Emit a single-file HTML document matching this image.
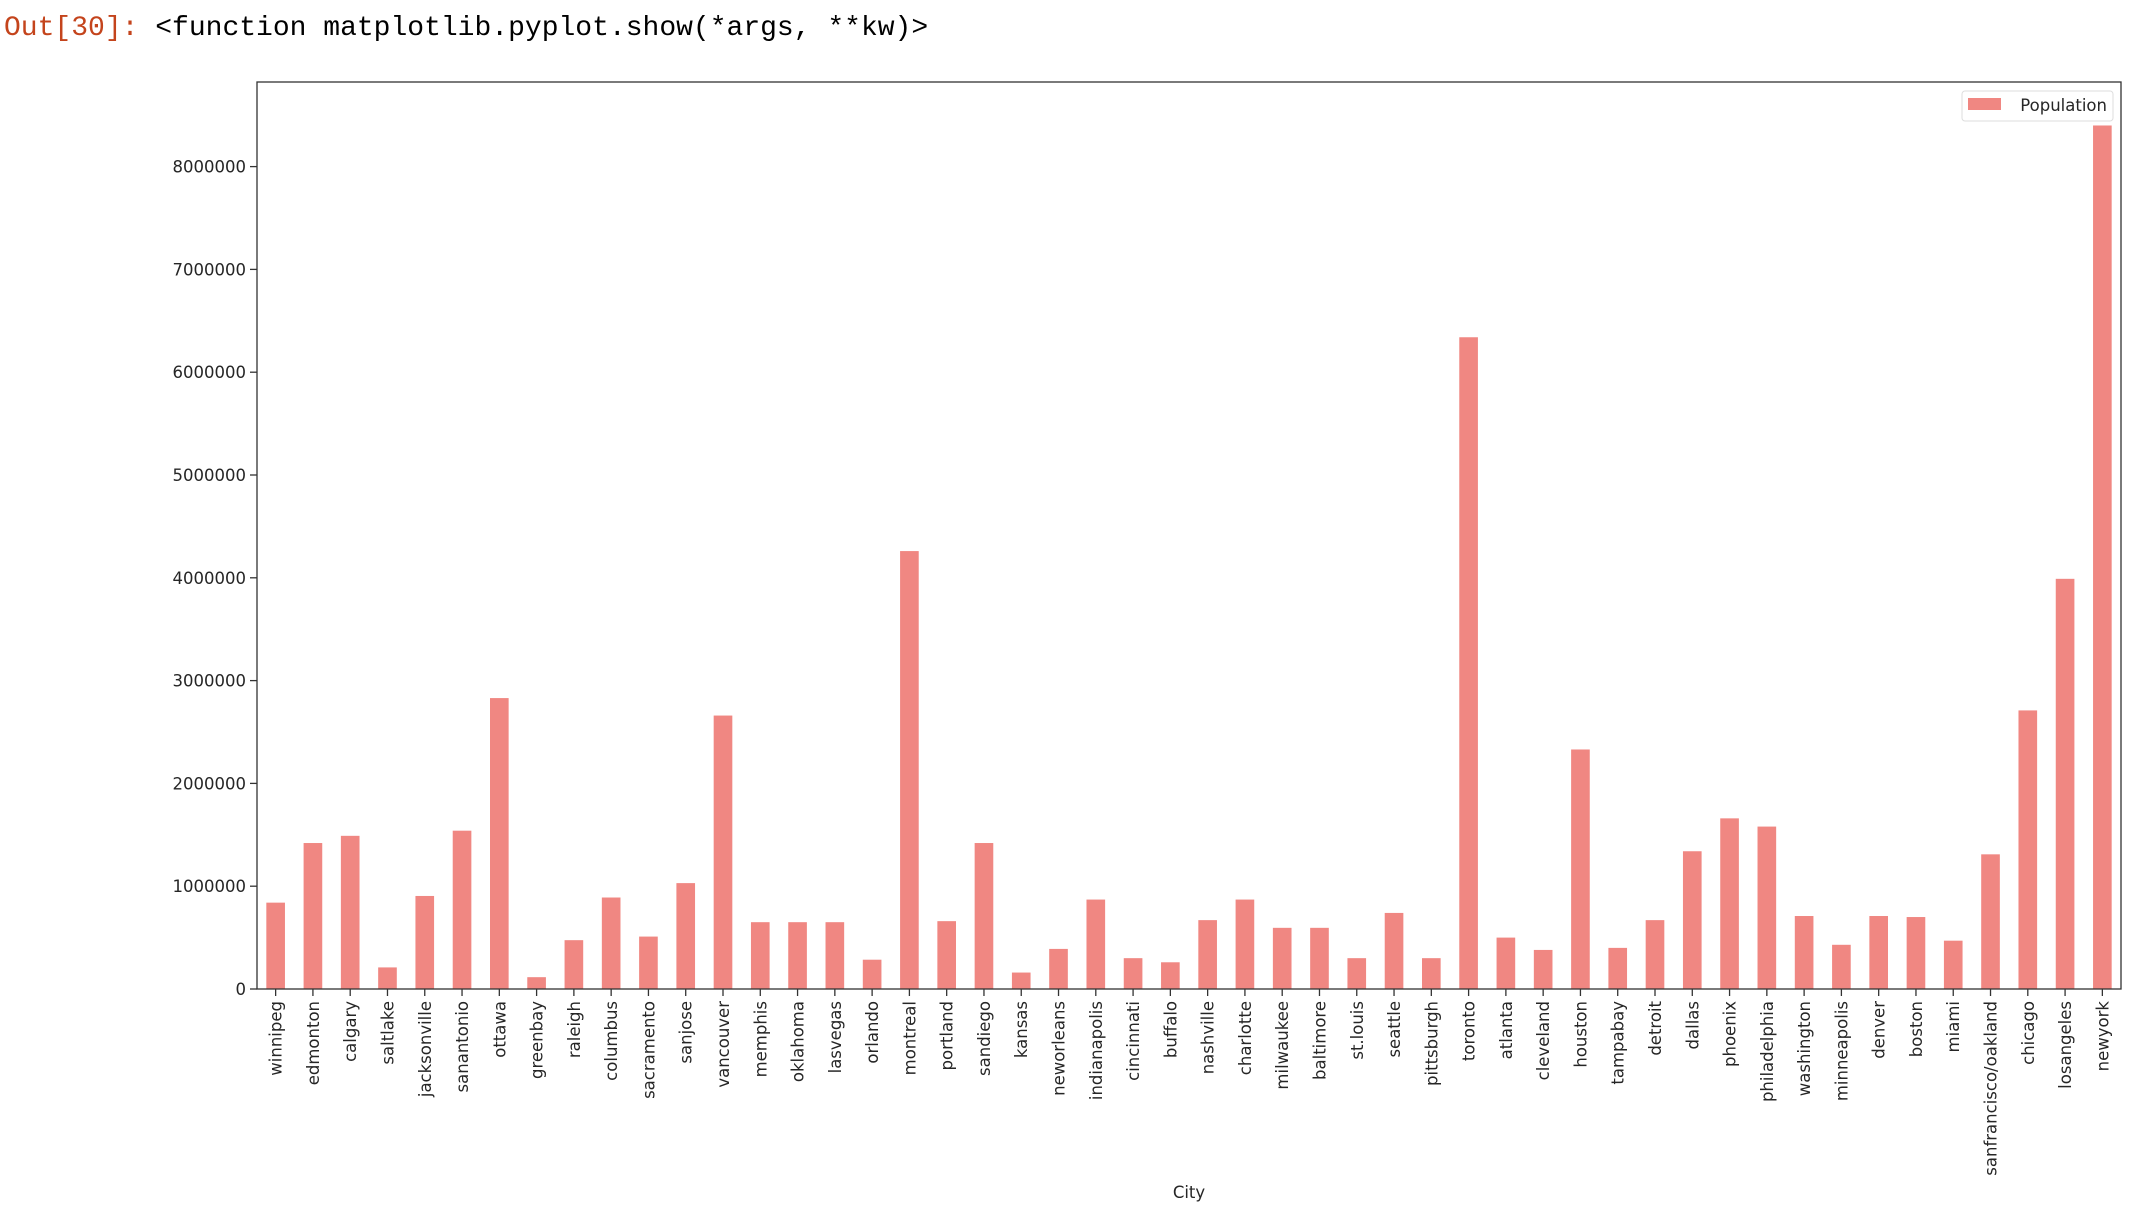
<!DOCTYPE html>
<html><head><meta charset="utf-8"><style>
html,body{margin:0;padding:0;background:#fff;width:2138px;height:1206px;overflow:hidden}
#hdr{position:absolute;left:4px;top:13px;font-family:"Liberation Mono",monospace;font-size:28px;white-space:pre}
</style></head><body>
<div id="hdr"><span style="color:#c4441c">Out[30]:</span> <span style="color:#000">&lt;function matplotlib.pyplot.show(*args, **kw)&gt;</span></div>
<svg id="chart" width="2138" height="1206" style="position:absolute;left:0;top:0"></svg>
<script>
const cities=["winnipeg","edmonton","calgary","saltlake","jacksonville","sanantonio","ottawa","greenbay","raleigh","columbus","sacramento","sanjose","vancouver","memphis","oklahoma","lasvegas","orlando","montreal","portland","sandiego","kansas","neworleans","indianapolis","cincinnati","buffalo","nashville","charlotte","milwaukee","baltimore","st.louis","seattle","pittsburgh","toronto","atlanta","cleveland","houston","tampabay","detroit","dallas","phoenix","philadelphia","washington","minneapolis","denver","boston","miami","sanfrancisco/oakland","chicago","losangeles","newyork"];
const population=[840000,1420000,1490000,210000,905000,1540000,2830000,115000,475000,890000,510000,1030000,2660000,650000,650000,650000,285000,4260000,660000,1420000,160000,390000,870000,300000,260000,670000,870000,595000,595000,300000,740000,300000,6340000,500000,380000,2330000,400000,670000,1340000,1660000,1580000,710000,430000,710000,700000,470000,1310000,2710000,3990000,8400000];
const yTicks=[0,1000000,2000000,3000000,4000000,5000000,6000000,7000000,8000000];
const seriesName="Population";

const NS="http://www.w3.org/2000/svg";
const svg=document.getElementById('chart');
const L=257,R=2121,T=82,B=989,PX=102.8/1e6;
const step=(R-L)/cities.length;
const xS=i=>L+(i+0.5)*step;
const yS=v=>B-v*PX;
function mk(tag,attrs,parent){const e=document.createElementNS(NS,tag);for(const k in attrs)e.setAttribute(k,attrs[k]);(parent||svg).appendChild(e);return e;}
const FONT='"DejaVu Sans","Liberation Sans",sans-serif';
const FS=16.5;

population.forEach((v,i)=>{
  const r=mk('rect',{x:xS(i)-step/4,y:yS(v),width:step/2,height:B-yS(v),fill:'#f08782'});
  
  
});

yTicks.forEach(t=>{
  const y=yS(t);
  const l=mk('line',{x1:L-7,x2:L,y1:y,y2:y,stroke:'#333','stroke-width':1.3});
  
  
  const tx=mk('text',{x:L-11,y:y+6,'text-anchor':'end','font-family':FONT,'font-size':FS,fill:'#262626'});
  tx.textContent=String(t);
  
  
});

cities.forEach((c,i)=>{
  const x=xS(i);
  const l=mk('line',{x1:x,x2:x,y1:B,y2:B+7,stroke:'#333','stroke-width':1.3});
  
  
  const tx=mk('text',{x:0,y:0,'text-anchor':'end','font-family':FONT,'font-size':FS,fill:'#262626',transform:`translate(${x+6},${B+12}) rotate(-90)`});
  tx.textContent=c;
  
  
});

const frame=mk('rect',{x:L,y:T,width:R-L,height:B-T,fill:'none',stroke:'#333','stroke-width':1.3});



const xl=mk('text',{x:(L+R)/2,y:1198,'text-anchor':'middle','font-family':FONT,'font-size':FS,fill:'#262626'});
xl.textContent='City';



const lg=mk('g',{});


mk('rect',{x:1962,y:91,width:151,height:30,rx:3,fill:'#fff','fill-opacity':0.85,stroke:'#ddd','stroke-width':1},lg);
const lp=mk('rect',{x:1968,y:98,width:33,height:12,fill:'#f08782'},lg);


const lt=mk('text',{x:2107,y:111,'text-anchor':'end','font-family':FONT,'font-size':FS,fill:'#262626'},lg);
lt.textContent=seriesName;


</script>
</body></html>
